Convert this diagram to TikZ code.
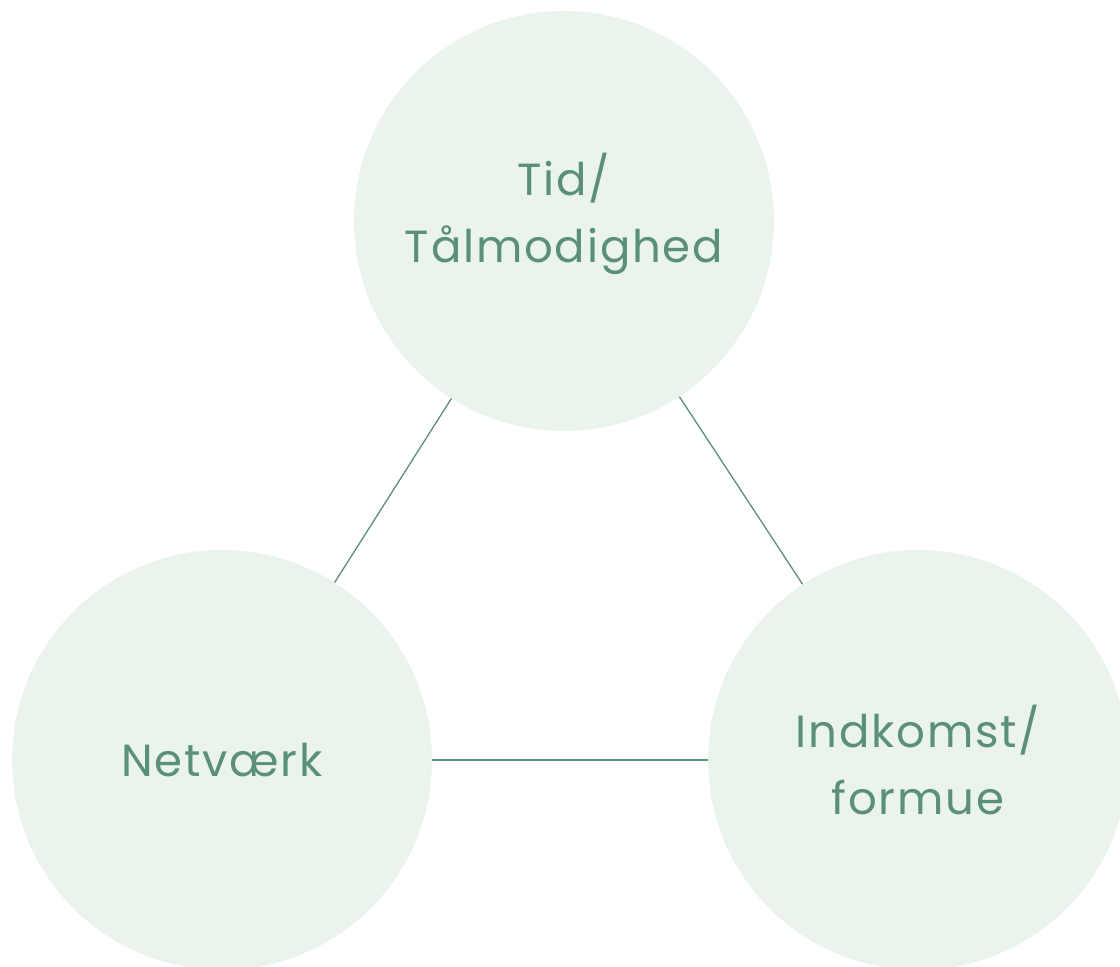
\documentclass[tikz,border=0pt]{standalone}
\usepackage{fontspec}
\setmainfont{Poppins}[LetterSpace=4]
\definecolor{circfill}{HTML}{EAF3EC}
\definecolor{ink}{HTML}{5A8F78}
\begin{document}
\begin{tikzpicture}[x=1pt,y=-1pt,
  bubble/.style={circle,fill=circfill,draw=none,minimum size=420pt,inner sep=0pt,
    text=ink,align=center,font=\fontsize{45}{67}\selectfont},
  caption/.style={text=ink,align=center,inner sep=0pt,font=\fontsize{45}{67}\selectfont},
  link/.style={draw=ink,line width=1.3pt}]
\useasboundingbox (0,0) rectangle (1120,967);
\node[bubble] (tid) at (564,221) {};
\node[caption] (tidtext) at (564,214) {Tid/\\Tålmodighed};
\node[bubble] (net) at (222,760) {Netværk};
\node[bubble] (ind) at (918,760) {Indkomst/\\formue};
\draw[link] (tid) -- (net);
\draw[link] (tid) -- (ind);
\draw[link] (net) -- (ind);
\end{tikzpicture}
\end{document}
